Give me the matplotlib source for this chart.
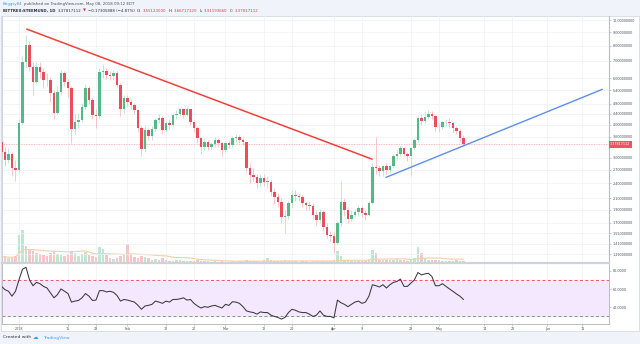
import numpy as np
import pandas as pd
import matplotlib
matplotlib.use('Agg')
import matplotlib.pyplot as plt
from matplotlib.patches import Rectangle
import matplotlib.transforms as mtrans

# ---------------- data (day offsets from 2018-01-01) ----------------
days = list(range(-5, 128))
first_open = 3.45
closes = [3.16, 2.94, 3.10, 2.73, 2.69,
          4.05, 6.95, 8.04, 6.65, 5.83, 6.65, 6.36, 5.92, 5.90, 5.27,
          4.42, 5.34, 6.27, 5.83, 5.50, 3.84, 4.11, 4.17, 4.69, 5.50,
          4.97, 4.36, 4.30, 6.36, 6.42, 6.18, 6.13, 6.27, 5.66, 4.58,
          5.04, 4.90, 4.76, 4.55, 3.88, 3.23, 3.82, 3.61, 3.84, 4.17,
          4.26, 3.82, 4.05, 3.99, 4.36, 4.38, 4.58, 4.36, 4.58, 4.11,
          3.88, 3.55, 3.30, 3.45, 3.30, 3.38, 3.50, 3.40, 3.20, 3.40,
          3.35, 3.55, 3.60, 3.50, 3.45, 2.73, 2.58, 2.54, 2.40, 2.50,
          2.43, 2.43, 2.23, 2.13, 2.04, 1.79, 1.80, 2.01, 2.16, 2.14,
          2.13, 2.01, 1.98, 1.97, 1.82, 1.74, 1.87, 1.64, 1.52, 1.51,
          1.42, 1.69, 2.04, 1.90, 1.76, 1.82, 1.87, 1.93, 1.84, 1.82,
          2.01, 2.77, 2.73, 2.68, 2.78, 2.70, 2.78, 3.03, 3.10, 3.25,
          3.10, 3.04, 3.25, 3.50, 4.23, 4.15, 4.29, 4.39, 4.32, 3.91,
          3.93, 4.09, 4.09, 4.05, 3.88, 3.78, 3.55123, 3.37817112]
highs = [3.55, 3.30, 3.25, 3.15, 2.95,
         4.20, 7.30, 8.80, 8.30, 6.90, 6.90, 6.95, 6.60, 6.30, 6.10,
         5.40, 5.60, 6.45, 6.40, 5.95, 5.60, 4.40, 4.45, 4.85, 5.70,
         5.60, 5.10, 4.60, 6.60, 6.80, 6.60, 6.40, 6.45, 6.40, 5.75,
         5.20, 5.20, 5.00, 4.85, 4.60, 3.95, 3.95, 3.90, 3.95, 4.25,
         4.40, 4.30, 4.15, 4.20, 4.45, 4.55, 4.65, 4.65, 4.70, 4.60,
         4.15, 3.95, 3.60, 3.55, 3.50, 3.45, 3.60, 3.55, 3.45, 3.45,
         3.50, 3.62, 3.70, 3.65, 3.55, 3.45, 2.85, 2.75, 2.60, 2.60,
         2.60, 2.55, 2.48, 2.30, 2.20, 2.10, 1.90, 2.05, 2.25, 2.25,
         2.20, 2.18, 2.05, 2.05, 2.02, 1.88, 1.92, 1.90, 1.70, 1.58,
         1.56, 1.72, 2.45, 2.10, 1.95, 1.90, 1.92, 1.98, 1.96, 1.90,
         2.05, 2.85, 3.60, 2.82, 2.82, 2.85, 2.82, 3.10, 3.20, 3.35,
         3.30, 3.15, 3.28, 3.55, 4.30, 4.40, 4.50, 4.55, 4.50, 4.35,
         4.05, 4.15, 4.20, 4.25, 4.10, 3.95, 3.85, 3.66717120]
lows = [3.05, 2.80, 2.85, 2.55, 2.45,
        2.65, 4.00, 6.60, 6.40, 5.20, 5.70, 6.00, 5.50, 5.60, 4.90,
        4.20, 4.40, 5.20, 5.60, 5.10, 3.40, 3.70, 3.90, 4.10, 4.60,
        4.80, 4.20, 3.90, 4.25, 6.00, 5.95, 5.90, 5.90, 5.55, 4.30,
        4.45, 4.70, 4.60, 4.40, 3.75, 3.05, 3.15, 3.50, 3.50, 3.75,
        4.05, 3.70, 3.75, 3.85, 3.95, 4.20, 4.30, 4.25, 4.30, 4.00,
        3.75, 3.40, 3.10, 3.20, 3.20, 3.20, 3.30, 3.30, 3.05, 3.15,
        3.25, 3.30, 3.45, 3.40, 3.35, 2.65, 2.40, 2.45, 2.30, 2.35,
        2.35, 2.30, 2.15, 2.00, 1.95, 1.70, 1.55, 1.75, 1.95, 2.05,
        2.05, 1.95, 1.90, 1.90, 1.75, 1.65, 1.70, 1.58, 1.48, 1.45,
        1.30, 1.40, 1.65, 1.80, 1.70, 1.72, 1.78, 1.80, 1.78, 1.74,
        1.80, 2.00, 2.60, 2.55, 2.55, 2.60, 2.62, 2.75, 2.95, 3.05,
        3.05, 2.90, 2.55, 3.20, 3.45, 4.00, 4.05, 4.20, 4.20, 3.80,
        3.75, 3.85, 3.95, 3.90, 3.75, 3.70, 3.45, 3.31193660]
volume = [18, 20, 15, 18, 20,
          85, 100, 52, 40, 35, 30, 28, 25, 22, 30,
          35, 28, 25, 20, 28, 35, 30, 22, 28, 32,
          25, 22, 18, 48, 42, 25, 15, 12, 15, 20,
          28, 58, 25, 18, 15, 22, 18, 15, 10, 12,
          10, 15, 8, 6, 6, 8, 10, 6, 6, 5,
          6, 8, 5, 6, 5, 4, 5, 4, 5, 4,
          4, 5, 4, 5, 6, 8, 6, 5, 5, 4,
          10, 15, 8, 5, 5, 6, 8, 6, 5, 5,
          4, 5, 5, 4, 5, 5, 6, 5, 6, 5,
          8, 35, 22, 10, 8, 6, 5, 6, 5, 6,
          12, 38, 30, 10, 8, 8, 10, 10, 12, 8,
          8, 6, 10, 15, 48, 30, 15, 10, 8, 10,
          8, 6, 6, 5, 6, 8, 6, 5]
rsi = [63.0, 59.4, 57.6, 52.2, 57.6, 70.2, 81.8, 84.0, 70.2, 63.7,
       67.4, 65.9, 63.0, 61.2, 55.8, 50.4, 54.0, 60.2, 57.6, 55.1,
       45.7, 46.8, 47.5, 50.4, 55.1, 52.2, 47.5, 47.9, 58.3, 58.3,
       56.9, 57.6, 56.5, 53.0, 46.8, 48.6, 47.9, 46.8, 45.7, 42.1,
       37.8, 41.4, 42.1, 43.2, 46.8, 45.7, 44.3, 46.8, 45.7, 48.6,
       48.6, 49.3, 50.4, 47.9, 48.6, 44.3, 41.4, 39.2, 40.7, 40.0,
       41.4, 42.1, 40.7, 39.2, 43.2, 42.1, 46.1, 45.7, 44.3,
       40.7, 36.0, 34.9, 34.2, 32.4, 34.9, 34.2, 34.2, 31.3, 29.9,
       28.8, 27.0, 28.8, 34.2, 37.8, 36.7, 34.9, 34.2, 34.2, 32.4,
       29.9, 31.3, 36.0, 31.3, 29.9, 29.9, 28.4, 47.9, 45.0, 43.2,
       40.7, 43.2, 45.7, 46.8, 44.3, 45.7, 52.2, 64.8, 63.7, 62.3,
       64.8, 61.2, 64.8, 67.4, 68.4, 71.0, 63.0, 63.0, 66.6, 70.2,
       78.2, 75.6, 76.7, 77.4, 73.8, 63.7, 63.7, 65.9, 63.0, 60.2,
       57.6, 54.7, 52.2, 48.6]

red_line_x = [2.2, 100.9]
red_line_y = [9.24, 2.96]
blue_line_x = [104.9, 166.7]
blue_line_y = [2.525, 5.454]
last_price = 3.37817112

price_ticks = [10.0, 9.0, 8.0, 7.0, 6.0, 5.4, 4.8, 4.4, 4.0, 3.6, 3.0,
               2.7, 2.4, 2.1, 1.9, 1.7, 1.55, 1.41, 1.29]
rsi_ticks = [40, 60, 80]
xtick_days = [0, 14, 22, 31, 42, 50, 59, 70, 78, 90, 98, 112, 120, 133, 141, 151, 161]
xtick_labels = ['2018', '15', '23', 'Feb', '12', '20', 'Mar', '12', '20',
                'Apr', '9', '23', 'May', '14', '22', 'Jun', '11']

# ---------------- figure ----------------
W, H = 640, 344
fig = plt.figure(figsize=(W / 100, H / 100), dpi=100)
fig.patch.set_facecolor('#f0f3fa')


def fx(px):
    return px / W


def fy(py):
    return 1 - py / H


bg = fig.add_axes([0, 0, 1, 1], zorder=-10)
bg.set_xlim(0, W)
bg.set_ylim(H, 0)
bg.axis('off')
bg.add_patch(Rectangle((0.5, 15.7), 638.5, 315.3, facecolor='white',
                       edgecolor='#d6dae2', lw=0.6))

L, R = fx(2.3), fx(609)
rect_price = [L, fy(263), R - L, fy(16) - fy(263)]
rect_rsi = [L, fy(324), R - L, fy(264) - fy(324)]

axv = fig.add_axes(rect_price)
ax = fig.add_axes(rect_price)
axr = fig.add_axes(rect_rsi)

XMIN, XMAX = -4.77, 168.6
UP, DOWN = '#53b987', '#eb4d5c'
UP_W, DOWN_W = '#b8e3cd', '#f7bcc2'
TICK_FS = 2.4

opens = [first_open] + closes[:-1]
d = np.array(days, dtype=float)
o = np.array(opens)
c = np.array(closes)
hi = np.array(highs)
lo = np.array(lows)
up = c >= o

# grid + volume (behind)
axv.set_xlim(XMIN, XMAX)
axv.set_ylim(0, max(volume) * 247 / 33)
axv.patch.set_alpha(0)
for t in xtick_days:
    axv.axvline(t, color='#edf0f5', lw=0.5, zorder=0)
    axr.axvline(t, color='#edf0f5', lw=0.5, zorder=0)
vcol = ['#bfe6d1' if u else '#f8c4c8' for u in up]
axv.bar(d, volume, width=0.8, color=vcol, zorder=1)
vma = pd.Series(volume).rolling(20, min_periods=1).mean()
axv.plot(d, vma, color='#f9cda8', lw=0.8, zorder=2)
axv.axis('off')

# price pane
ax.set_yscale('log')
ax.set_xlim(XMIN, XMAX)
ax.set_ylim(1.193, 10.36)
ax.patch.set_alpha(0)
for t in price_ticks:
    ax.axhline(t, color='#edf0f5', lw=0.5, zorder=0)

ax.vlines(d, lo, hi, colors=[UP_W if u else DOWN_W for u in up], lw=0.6, zorder=2)
body_lo = np.minimum(o, c)
body_h = np.maximum(np.abs(c - o), body_lo * 0.006)
ax.bar(d, body_h, bottom=body_lo, width=0.62,
       color=[UP if u else DOWN for u in up], zorder=3)

ax.axhline(last_price, color='#f4a3aa', lw=0.6, ls=(0, (1, 1)), zorder=1)
ax.plot(red_line_x, red_line_y, color='#f0403a', lw=1.1, zorder=4, solid_capstyle='round')
ax.plot(blue_line_x, blue_line_y, color='#5d8fe8', lw=1.0, zorder=4, solid_capstyle='round')

ax.yaxis.tick_right()
ax.set_yticks(price_ticks)
ax.set_yticklabels(['%.8f' % t for t in price_ticks])
ax.yaxis.set_minor_locator(matplotlib.ticker.NullLocator())
ax.tick_params(axis='y', length=1.5, width=0.4, colors='#9a9ea8', labelsize=TICK_FS,
               labelcolor='#4a4e58', pad=1.2)
ax.set_xticks([])
trans = mtrans.blended_transform_factory(ax.transAxes, ax.transData)
ax.text(1.002, last_price, '%.8f' % last_price, transform=trans, fontsize=TICK_FS,
        color='white', va='center', ha='left',
        bbox=dict(boxstyle='square,pad=0.45', fc='#ef5261', ec='none'))
ax.spines['top'].set_visible(False)
ax.spines['left'].set_color('#c9ccd3')
ax.spines['left'].set_linewidth(0.6)
ax.spines['right'].set_color('#b9bcc4')
ax.spines['right'].set_linewidth(0.8)
ax.spines['bottom'].set_color('#cfd2d8')
ax.spines['bottom'].set_linewidth(1.6)

# RSI pane
axr.set_xlim(XMIN, XMAX)
axr.set_ylim(21.6, 87.6)
axr.patch.set_alpha(0)
axr.axhspan(30, 70, color='#f3e8fd', zorder=0)
axr.axhline(70, color='#f05a5a', lw=0.7, ls=(0, (3, 2.5)), zorder=1)
axr.axhline(30, color='#7c9e7c', lw=0.7, ls=(0, (3, 2.5)), zorder=1)
axr.plot(d, rsi, color='#3b3840', lw=0.75, zorder=3)
axr.yaxis.tick_right()
axr.set_yticks(rsi_ticks)
axr.set_yticklabels(['%.4f' % t for t in rsi_ticks])
axr.tick_params(axis='y', length=1.5, width=0.4, colors='#9a9ea8', labelsize=TICK_FS,
                labelcolor='#4a4e58', pad=1.2)
axr.set_xticks(xtick_days)
axr.set_xticklabels(xtick_labels)
axr.tick_params(axis='x', length=1.5, width=0.4, colors='#9a9ea8', labelsize=TICK_FS,
                labelcolor='#4a4e58', pad=1)
axr.spines['top'].set_visible(False)
for s in ['left', 'right', 'bottom']:
    axr.spines[s].set_color('#b9bcc4')
    axr.spines[s].set_linewidth(0.7)

# header (laid out piece by piece)
fig.canvas.draw()
rend = fig.canvas.get_renderer()


def text_run(pieces, x0, ypx, size):
    x = x0
    for txt, col, weight, gap in pieces:
        t = fig.text(fx(x), fy(ypx), txt, color=col, fontsize=size,
                     fontweight=weight, va='center', ha='left')
        x += t.get_window_extent(renderer=rend).width + gap


DARK, RED, BLUE = '#2a2e39', '#e03b46', '#3ca0f0'
text_run([('Briggsy84', BLUE, 'normal', 1.2),
          ('published on TradingView.com, May 08, 2018 09:12 EDT', '#4a4e58', 'normal', 0)],
         3, 4.5, 2.8)
text_run([('BITTREX:STEEMUSD, 1D', DARK, 'bold', 2.4),
          ('3.37817112', DARK, 'normal', 1.6),
          ('\u25bc', RED, 'normal', 1.6),
          ('\u22120.17305888 (\u22124.87%)', DARK, 'normal', 2.4),
          ('O:', DARK, 'normal', 1.0), ('3.55123000', RED, 'normal', 2.4),
          ('H:', DARK, 'normal', 1.0), ('3.66717120', RED, 'normal', 2.4),
          ('L:', DARK, 'normal', 1.0), ('3.31193660', RED, 'normal', 2.4),
          ('C:', DARK, 'normal', 1.0), ('3.37817112', RED, 'normal', 0)],
         3, 10.5, 2.8)

# footer
fig.text(fx(3), fy(337.5), 'Created with', color=DARK, fontsize=3.2, va='center')
fig.text(fx(33), fy(337.5), '\u2601', color=BLUE, fontsize=4.0, va='center')
fig.text(fx(43), fy(337.5), 'TradingView', color=BLUE, fontsize=3.2, va='center')

fig.savefig('out.png', dpi=100, facecolor=fig.get_facecolor())
